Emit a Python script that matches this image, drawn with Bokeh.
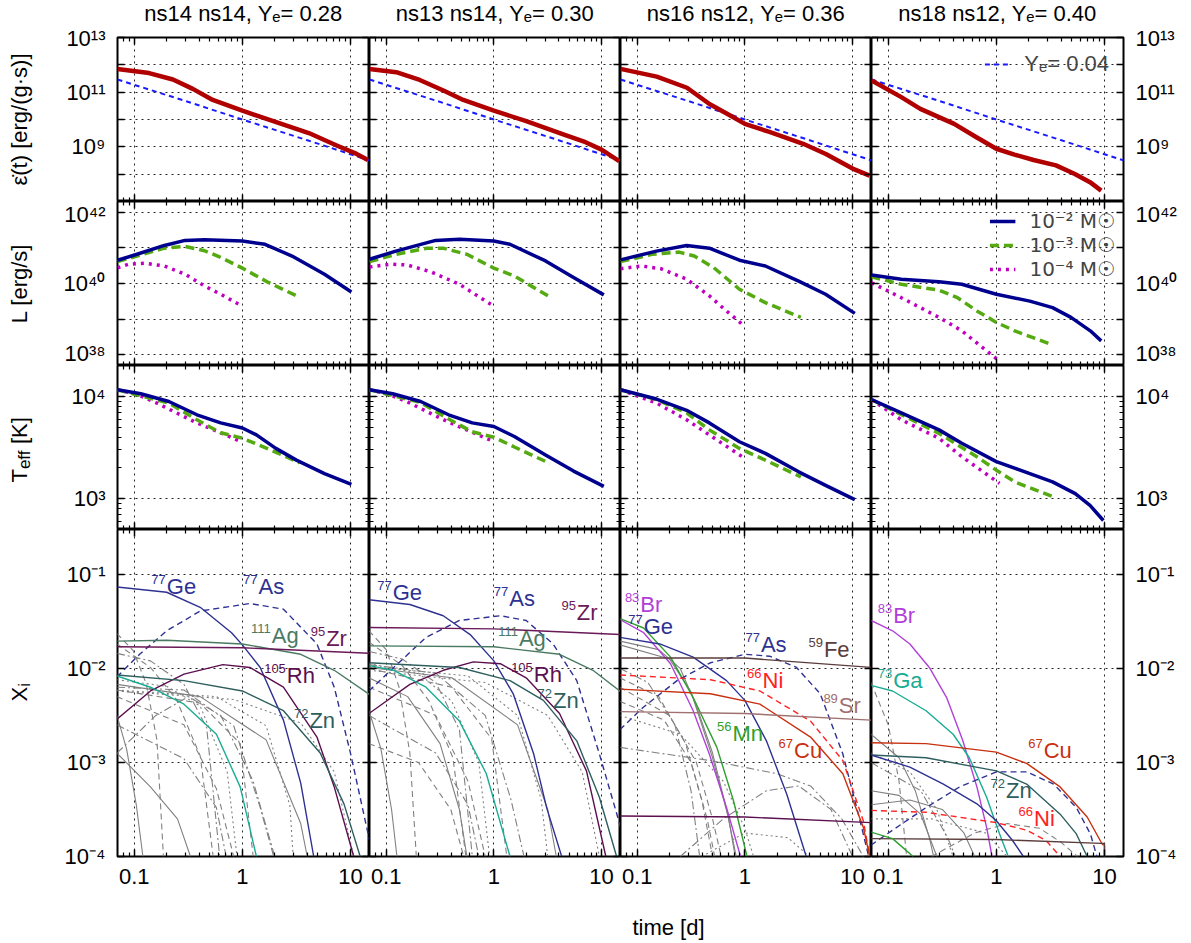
import numpy as np
from bokeh.plotting import figure
from bokeh.models import (LogAxis, FixedTicker, Label, Legend, LegendItem,
                          ColumnDataSource, Range1d)
from bokeh.layouts import gridplot, column, row
from bokeh.embed import file_html
from bokeh.resources import INLINE
from bokeh.core.properties import value

FONT = "Liberation Sans"
FS = "22px"

# ============================ DATA ============================
t_range = (0.07, 15.0)
model_names = ["ns14 ns14", "ns13 ns14", "ns16 ns12", "ns18 ns12"]
ye_values = ["0.28", "0.30", "0.36", "0.40"]
mass_labels = ["10\u207b\u00b2 M\u2609", "10\u207b\u00b3 M\u2609", "10\u207b\u2074 M\u2609"]
ref_label = "Y\u2091= 0.04"

# row 1: radioactive heating rate [erg/(g s)]
eps_ref_t = [0.07, 0.3, 1.0, 4.0, 15.0]
eps_ref_v = [2.9e11, 4.7e10, 1.0e10, 1.74e9, 3.2e8]
eps_t = [
    [0.07, 0.137, 0.228, 0.348, 0.532, 1.0, 2.09, 4.12, 7.46, 11.4, 14.5],
    [0.07, 0.124, 0.205, 0.340, 0.52, 1.0, 2.0, 4.28, 7.1, 10.0, 14.6],
    [0.07, 0.152, 0.290, 0.469, 0.731, 1.0, 1.69, 3.48, 5.65, 10.0, 14.4],
    [0.07, 0.132, 0.198, 0.407, 0.66, 1.0, 1.47, 2.21, 3.56, 5.32, 7.35, 9.33],
]
eps_v = [
    [7.1e11, 5.0e11, 2.9e11, 1.32e11, 5.2e10, 2.1e10, 7.9e9, 3.2e9, 1.12e9, 5.5e8, 3.3e8],
    [7.1e11, 5.4e11, 2.8e11, 1.15e11, 5.2e10, 2.1e10, 8.7e9, 3.0e9, 1.48e9, 7.9e8, 3.0e8],
    [7.1e11, 3.7e11, 1.45e11, 3.7e10, 1.41e10, 6.9e9, 3.5e9, 1.29e9, 5.5e8, 1.6e8, 8.9e7],
    [2.7e11, 6.6e10, 2.45e10, 6.9e9, 2.2e9, 8.5e8, 5.2e8, 3.3e8, 2.1e8, 1.02e8, 5.1e7, 2.5e7],
]

# row 2: luminosity [erg/s] for ejecta masses 1e-2, 1e-3, 1e-4 Msun
lum_m2_t = [
    [0.07, 0.106, 0.19, 0.295, 0.447, 1.0, 1.62, 2.88, 5.75, 10.2],
    [0.07, 0.123, 0.288, 0.479, 1.0, 1.41, 3.02, 5.5, 10.5],
    [0.07, 0.151, 0.288, 0.468, 0.891, 1.55, 3.16, 5.62, 10.5],
    [0.07, 0.132, 0.295, 0.479, 1.0, 2.04, 3.31, 4.9, 7.4, 9.33],
]
lum_m2_v = [
    [4.5e40, 6.6e40, 1.17e41, 1.62e41, 1.70e41, 1.55e41, 1.26e41, 5.9e40, 1.82e40, 5.8e39],
    [4.8e40, 8.1e40, 1.62e41, 1.74e41, 1.55e41, 1.26e41, 4.3e40, 1.48e40, 4.8e39],
    [4.6e40, 8.1e40, 1.17e41, 9.8e40, 4.5e40, 3.1e40, 1.17e40, 5.0e39, 1.45e39],
    [1.74e40, 1.32e40, 1.12e40, 9.5e39, 5.0e39, 3.2e39, 2.1e39, 1.12e39, 4.7e38, 2.45e38],
]
lum_m3_t = [
    [0.07, 0.106, 0.19, 0.295, 0.447, 0.63, 1.0, 1.74, 3.39],
    [0.07, 0.123, 0.24, 0.339, 0.562, 1.0, 1.55, 3.31],
    [0.07, 0.138, 0.245, 0.339, 0.513, 0.891, 1.55, 3.31],
    [0.07, 0.132, 0.295, 0.437, 0.66, 1.0, 1.48, 3.31],
]
lum_m3_v = [
    [4.1e40, 5.9e40, 9.8e40, 1.10e41, 8.3e40, 5.4e40, 2.7e40, 1.07e40, 4.1e39],
    [4.1e40, 6.6e40, 9.8e40, 9.8e40, 6.6e40, 2.7e40, 1.62e40, 4.2e39],
    [4.1e40, 6.6e40, 7.6e40, 5.9e40, 2.8e40, 6.9e39, 2.9e39, 1.12e39],
    [1.55e40, 9.5e39, 6.5e39, 4.0e39, 1.7e39, 8.1e38, 4.7e38, 1.9e38],
]
lum_m4_t = [
    [0.07, 0.089, 0.126, 0.19, 0.295, 0.447, 0.63, 1.0],
    [0.07, 0.112, 0.158, 0.263, 0.479, 1.0],
    [0.07, 0.11, 0.166, 0.288, 0.468, 0.646, 1.0],
    [0.07, 0.132, 0.295, 0.479, 0.776, 1.07],
]
lum_m4_v = [
    [2.75e40, 3.5e40, 3.7e40, 3.1e40, 1.82e40, 8.5e39, 5.0e39, 2.3e39],
    [2.9e40, 3.5e40, 3.3e40, 2.1e40, 9.5e39, 2.3e39],
    [2.6e40, 3.1e40, 2.6e40, 1.32e40, 4.5e39, 1.9e39, 6.2e38],
    [1.05e40, 4.0e39, 1.12e39, 4.7e38, 1.45e38, 6.6e37],
]

# row 3: effective temperature [K]
teff_m2_t = [
    [0.07, 0.115, 0.209, 0.38, 0.63, 1.0, 1.35, 2.04, 3.16, 5.75, 10.2],
    [0.07, 0.115, 0.209, 0.38, 0.63, 1.0, 1.55, 3.02, 5.5, 10.5],
    [0.07, 0.151, 0.288, 0.468, 0.891, 1.55, 3.16, 5.62, 10.5],
    [0.07, 0.132, 0.295, 0.479, 1.0, 2.04, 3.31, 5.37, 7.35, 9.77],
]
teff_m2_v = [
    [11600, 10600, 8900, 6600, 5500, 4900, 4200, 3100, 2380, 1760, 1380],
    [11600, 10600, 8900, 6600, 5500, 5070, 4050, 2670, 1860, 1320],
    [11600, 9400, 7300, 5500, 3600, 2770, 1830, 1350, 980],
    [9300, 6900, 4700, 3480, 2300, 1760, 1460, 1120, 860, 612],
]
teff_m3_t = [
    [0.07, 0.209, 0.38, 0.63, 1.0, 1.78, 3.39],
    [0.07, 0.209, 0.38, 0.63, 1.0, 1.55, 3.31],
    [0.07, 0.151, 0.288, 0.468, 0.891, 1.55, 3.31],
    [0.07, 0.295, 0.66, 1.0, 1.48, 3.31],
]
teff_m3_v = [
    [11600, 8600, 5900, 4400, 3900, 3030, 2240],
    [11600, 8700, 6000, 4500, 3980, 3200, 2210],
    [11600, 9300, 6900, 4700, 3100, 2380, 1630],
    [9300, 4350, 2570, 1900, 1460, 1050],
]
teff_m4_t = [
    [0.07, 0.107, 0.162, 0.245, 0.38, 0.63, 1.0],
    [0.07, 0.107, 0.162, 0.245, 0.38, 0.63, 1.0],
    [0.07, 0.151, 0.288, 0.468, 1.0],
    [0.07, 0.132, 0.295, 0.479, 1.07],
]
teff_m4_v = [
    [11600, 10400, 8600, 6900, 5500, 4400, 3560],
    [11600, 10400, 8700, 7000, 5600, 4450, 3610],
    [11600, 8600, 5900, 4200, 2470],
    [9300, 5900, 3890, 2570, 1410],
]

# row 4: mass fractions X_i, read as (log10 t, log10 X) pairs
c1_Ge77 = [(-1.16, -1.134), (-0.70, -1.19), (-0.39, -1.35), (-0.10, -1.62), (0.0, -1.75), (0.165, -1.99), (0.38, -2.55), (0.54, -3.22), (0.66, -4.0)]
c1_As77 = [(-1.16, -2.09), (-0.95, -1.85), (-0.70, -1.60), (-0.39, -1.39), (0.07, -1.31), (0.38, -1.37), (0.69, -1.74), (0.85, -2.20), (1.0, -2.9), (1.15, -3.69), (1.2, -3.95)]
c1_Ag111 = [(-1.16, -1.71), (-0.70, -1.70), (0.0, -1.74), (0.54, -1.85), (0.85, -2.02), (1.18, -2.28)]
c1_Zr95 = [(-1.16, -1.77), (0.0, -1.78), (1.18, -1.84)]
c1_Rh105 = [(-1.16, -2.54), (-0.85, -2.24), (-0.54, -2.06), (-0.18, -1.96), (0.07, -1.99), (0.38, -2.20), (0.69, -2.73), (0.85, -3.26), (1.03, -4.0)]
c1_Zn72 = [(-1.16, -2.07), (-0.54, -2.13), (0.0, -2.24), (0.38, -2.45), (0.72, -2.9), (0.94, -3.44), (1.09, -4.0)]
c1_Ga73 = [(-1.16, -2.08), (-0.85, -2.20), (-0.54, -2.38), (-0.24, -2.70), (-0.02, -3.26), (0.13, -4.0)]

c2_Ge77 = [(-1.16, -1.27), (-0.78, -1.32), (-0.47, -1.44), (-0.22, -1.64), (0.0, -1.92), (0.18, -2.27), (0.37, -2.91), (0.49, -3.48), (0.63, -4.0)]
c2_As77 = [(-1.16, -2.24), (-0.93, -1.99), (-0.63, -1.67), (-0.32, -1.49), (0.06, -1.44), (0.3, -1.49), (0.55, -1.74), (0.77, -2.13), (0.98, -2.91), (1.16, -3.62), (1.2, -3.8)]
c2_Zr95 = [(-1.16, -1.565), (0.0, -1.58), (1.18, -1.64)]
c2_Ag111 = [(-1.16, -1.76), (0.0, -1.77), (0.61, -1.85), (0.92, -2.02), (1.18, -2.25)]
c2_Rh105 = [(-1.16, -2.48), (-0.78, -2.17), (-0.47, -2.02), (-0.19, -1.93), (0.06, -1.95), (0.3, -2.10), (0.61, -2.48), (0.86, -3.09), (1.04, -4.0)]
c2_Zn72 = [(-1.16, -1.94), (-0.32, -1.99), (0.15, -2.13), (0.46, -2.34), (0.77, -2.77), (0.98, -3.37), (1.14, -4.0)]
c2_Ga73 = [(-1.16, -1.97), (-0.93, -2.02), (-0.63, -2.2), (-0.32, -2.56), (-0.07, -3.12), (0.15, -4.0)]

c3_Br83 = [(-1.16, -1.48), (-0.94, -1.62), (-0.69, -1.95), (-0.48, -2.45), (-0.33, -2.91), (-0.17, -3.48), (-0.04, -4.0)]
c3_Mn56 = [(-1.16, -1.47), (-0.94, -1.57), (-0.69, -1.88), (-0.48, -2.31), (-0.26, -2.84), (-0.105, -3.41), (0.02, -4.0)]
c3_Ge77 = [(-1.16, -1.67), (-0.79, -1.74), (-0.48, -1.88), (-0.17, -2.13), (0.0, -2.34), (0.2, -2.77), (0.39, -3.34), (0.57, -4.0)]
c3_As77 = [(-1.16, -2.65), (-0.94, -2.41), (-0.63, -2.13), (-0.32, -1.94), (0.0, -1.85), (0.23, -1.87), (0.48, -1.99), (0.7, -2.27), (0.91, -2.91), (1.07, -3.62), (1.15, -4.0)]
c3_Fe59 = [(-1.16, -1.89), (0.0, -1.89), (1.18, -1.99)]
c3_Ni66 = [(-1.16, -2.07), (-0.32, -2.12), (0.14, -2.24), (0.61, -2.56), (0.91, -2.98), (1.1, -3.62), (1.16, -4.0)]
c3_Cu67 = [(-1.16, -2.22), (-0.32, -2.27), (0.14, -2.38), (0.61, -2.73), (0.91, -3.12), (1.1, -3.69), (1.16, -4.0)]
c3_Sr89 = [(-1.16, -2.46), (0.0, -2.48), (1.18, -2.55)]
c3_Zr95 = [(-1.16, -3.57), (0.0, -3.58), (1.18, -3.64)]

c4_Br83 = [(-1.16, -1.49), (-0.96, -1.60), (-0.80, -1.74), (-0.62, -1.99), (-0.46, -2.31), (-0.31, -2.77), (-0.18, -3.26), (-0.09, -3.69), (-0.04, -4.0)]
c4_Ga73 = [(-1.16, -2.18), (-0.96, -2.24), (-0.65, -2.45), (-0.40, -2.70), (-0.25, -2.95), (-0.09, -3.37), (0.03, -3.76), (0.11, -4.0)]
c4_Cu67 = [(-1.16, -2.79), (-0.65, -2.80), (0.0, -2.89), (0.28, -3.01), (0.59, -3.26), (0.84, -3.58), (0.98, -3.87), (1.0, -3.88), (1.0, -4.5)]
c4_Zn72 = [(-1.16, -2.92), (-0.65, -2.95), (0.0, -3.09), (0.28, -3.23), (0.59, -3.55), (0.74, -3.76), (0.84, -4.0)]
c4_Ge77 = [(-1.16, -2.92), (-0.80, -3.05), (-0.49, -3.23), (-0.18, -3.44), (0.0, -3.62), (0.15, -3.83), (0.25, -4.0)]
c4_As77 = [(-1.16, -3.88), (-0.96, -3.72), (-0.65, -3.48), (-0.34, -3.26), (0.0, -3.10), (0.28, -3.10), (0.53, -3.23), (0.74, -3.48), (0.87, -3.76), (0.93, -4.0)]
c4_Ni66 = [(-1.16, -3.51), (-0.65, -3.53), (0.0, -3.64), (0.28, -3.72), (0.46, -3.83), (0.59, -4.0)]
c4_Fe59 = [(-1.16, -3.81), (0.0, -3.82), (0.97, -3.86), (1.0, -3.86), (1.0, -4.5)]
c4_Mn56 = [(-1.16, -3.74), (-0.96, -3.81), (-0.77, -4.0)]

# unlabelled (grey) isotopes: (line style, pairs)
c1_grey = [
    ("solid", [(-1.16, -2.5), (-1.07, -2.86), (-0.98, -3.46), (-0.92, -4.0)]),
    ("solid", [(-1.16, -2.9), (-0.85, -3.26), (-0.6, -3.6), (-0.48, -4.0)]),
    ("dashed", [(-1.16, -1.63), (-1.01, -1.81), (-0.89, -2.16), (-0.79, -2.76), (-0.73, -4.0)]),
    ("dashed", [(-1.16, -1.74), (-0.85, -1.99), (-0.61, -2.33), (-0.39, -2.93), (-0.27, -4.0)]),
    ("dashdot", [(-1.16, -1.84), (-0.85, -1.92), (-0.54, -2.17), (-0.33, -2.63), (-0.21, -4.0)]),
    ("dotted", [(-1.16, -2.12), (-0.7, -2.19), (-0.39, -2.4), (-0.14, -3.1), (-0.05, -4.0)]),
    ("dashdot", [(-1.16, -2.2), (-0.54, -2.23), (-0.08, -2.61), (0.16, -3.46), (0.29, -4.0)]),
    ("dotted", [(-1.16, -2.23), (-0.24, -2.3), (0.22, -2.61), (0.44, -3.46), (0.47, -4.0)]),
    ("dashed", [(-1.16, -2.23), (-0.39, -2.37), (-0.02, -2.8), (0.1, -4.0)]),
    ("solid", [(-1.16, -2.17), (-0.39, -2.3), (0.22, -2.76), (0.54, -3.65), (0.6, -4.0)]),
    ("dotted", [(-1.16, -2.24), (-0.08, -2.33), (0.54, -2.58), (0.85, -3.1), (1.03, -4.0)]),
    ("dashed", [(-1.16, -2.3), (-0.54, -2.6), (-0.24, -3.28), (-0.08, -4.0)]),
    ("dashdot", [(-1.16, -2.6), (-0.54, -2.96), (-0.24, -3.48), (-0.15, -4.0)]),
    ("dashdot", [(-1.16, -2.9), (-0.8, -2.5), (-0.5, -2.3), (-0.2, -2.5), (0.1, -3.2), (0.3, -4.0)]),
]
c2_grey = [
    ("solid", [(-1.16, -2.45), (-1.05, -2.85), (-0.95, -3.5), (-0.9, -4.0)]),
    ("solid", [(-1.16, -2.1), (-0.8, -2.3), (-0.5, -2.8), (-0.32, -3.5), (-0.25, -4.0)]),
    ("dashed", [(-1.16, -1.6), (-1.0, -1.8), (-0.88, -2.2), (-0.78, -2.9), (-0.72, -4.0)]),
    ("dashed", [(-1.16, -1.72), (-0.85, -1.97), (-0.6, -2.35), (-0.38, -2.95), (-0.26, -4.0)]),
    ("dashdot", [(-1.16, -1.82), (-0.85, -1.9), (-0.54, -2.15), (-0.32, -2.65), (-0.2, -4.0)]),
    ("dotted", [(-1.16, -1.95), (-0.7, -2.05), (-0.39, -2.35), (-0.14, -3.0), (-0.04, -4.0)]),
    ("dashdot", [(-1.16, -1.96), (-0.54, -2.05), (-0.08, -2.5), (0.16, -3.4), (0.28, -4.0)]),
    ("dotted", [(-1.16, -1.98), (-0.24, -2.08), (0.22, -2.5), (0.44, -3.4), (0.5, -4.0)]),
    ("dashed", [(-1.16, -2.0), (-0.39, -2.2), (-0.02, -2.75), (0.12, -4.0)]),
    ("solid", [(-1.16, -1.99), (-0.39, -2.1), (0.22, -2.6), (0.5, -3.5), (0.58, -4.0)]),
    ("dotted", [(-1.16, -2.02), (-0.08, -2.15), (0.5, -2.5), (0.82, -3.1), (0.98, -4.0)]),
    ("dashed", [(-1.16, -2.2), (-0.54, -2.5), (-0.24, -3.2), (-0.08, -4.0)]),
    ("dashdot", [(-1.16, -2.5), (-0.54, -2.9), (-0.24, -3.45), (-0.14, -4.0)]),
    ("dashed", [(-1.16, -2.8), (-0.7, -3.0), (-0.4, -3.5), (-0.28, -4.0)]),
]
c3_grey = [
    ("solid", [(-1.16, -1.71), (-0.8, -1.8), (-0.6, -2.0), (-0.45, -2.4), (-0.3, -2.9), (-0.17, -3.5), (-0.08, -4.0)]),
    ("solid", [(-1.16, -1.75), (-0.7, -1.9), (-0.5, -2.25), (-0.3, -2.95), (-0.15, -3.6), (-0.09, -4.0)]),
    ("dashed", [(-1.16, -2.1), (-0.8, -2.3), (-0.55, -2.8), (-0.4, -3.4), (-0.3, -4.0)]),
    ("dashed", [(-1.16, -2.2), (-0.7, -2.5), (-0.45, -3.0), (-0.3, -3.6), (-0.22, -4.0)]),
    ("dashdot", [(-1.16, -2.0), (-0.9, -2.15), (-0.65, -2.6), (-0.5, -3.3), (-0.42, -4.0)]),
    ("dashdot", [(-1.16, -2.84), (-0.32, -2.98), (0.3, -3.12), (0.61, -3.25), (0.9, -3.6), (1.1, -4.0)]),
    ("dotted", [(-1.16, -2.5), (-0.6, -2.7), (-0.2, -3.2), (0.0, -3.7), (0.08, -4.0)]),
    ("dashdot", [(-0.6, -4.0), (-0.2, -3.6), (0.2, -3.3), (0.5, -3.25), (0.8, -3.5), (1.0, -4.0)]),
    ("dotted", [(-0.4, -4.0), (0.0, -3.75), (0.4, -3.8), (0.6, -4.0)]),
    ("dashed", [(-1.16, -2.35), (-0.75, -2.55), (-0.5, -3.0), (-0.35, -3.6), (-0.28, -4.0)]),
]
c4_grey = [
    ("solid", [(-1.16, -2.7), (-0.9, -2.95), (-0.75, -3.3), (-0.62, -3.8), (-0.58, -4.0)]),
    ("solid", [(-1.16, -3.3), (-0.9, -3.35), (-0.7, -3.55), (-0.55, -4.0)]),
    ("dashed", [(-1.16, -2.15), (-1.0, -2.6), (-0.9, -3.2), (-0.83, -4.0)]),
    ("dotted", [(-1.16, -2.9), (-0.8, -3.1), (-0.55, -3.5), (-0.4, -4.0)]),
    ("dashdot", [(-1.16, -3.0), (-0.7, -3.3), (-0.45, -3.8), (-0.38, -4.0)]),
    ("dashed", [(-0.6, -4.0), (-0.2, -3.75), (0.1, -3.65), (0.4, -3.7), (0.6, -3.85), (0.75, -4.0)]),
    ("solid", [(-1.16, -3.45), (-0.8, -3.4), (-0.5, -3.5), (-0.3, -3.75), (-0.2, -4.0)]),
    ("dotted", [(-1.16, -3.6), (-0.6, -3.6), (-0.1, -3.75), (0.1, -4.0)]),
]

# ============================ STYLE ============================
GE, AG, ZR, RH, ZN, GA = "#2e3192", "#4b7a62", "#6a1858", "#5c0f4f", "#2e5e5e", "#1aab93"
BR, MN, FE, NI, CU, SR = "#b040d8", "#2f9f2f", "#5a3c3c", "#ff2222", "#c83010", "#a07070"
GREY = "#808080"
DASH = {"solid": "solid", "dashed": "6 4", "dashdot": "8 3 2 3", "dotted": "2 3"}

colored = [
    [(c1_Ge77, GE, "solid"), (c1_As77, GE, "dashed"), (c1_Ag111, AG, "solid"), (c1_Zr95, ZR, "solid"),
     (c1_Rh105, RH, "solid"), (c1_Zn72, ZN, "solid"), (c1_Ga73, GA, "solid")],
    [(c2_Ge77, GE, "solid"), (c2_As77, GE, "dashed"), (c2_Ag111, AG, "solid"), (c2_Zr95, ZR, "solid"),
     (c2_Rh105, RH, "solid"), (c2_Zn72, ZN, "solid"), (c2_Ga73, GA, "solid")],
    [(c3_Br83, BR, "solid"), (c3_Mn56, MN, "solid"), (c3_Ge77, GE, "solid"), (c3_As77, GE, "dashed"),
     (c3_Fe59, FE, "solid"), (c3_Ni66, NI, "dashed"), (c3_Cu67, CU, "solid"), (c3_Sr89, SR, "solid"),
     (c3_Zr95, RH, "solid")],
    [(c4_Br83, BR, "solid"), (c4_Ga73, GA, "solid"), (c4_Cu67, CU, "solid"), (c4_Zn72, ZN, "solid"),
     (c4_Ge77, GE, "solid"), (c4_As77, GE, "dashed"), (c4_Ni66, NI, "dashed"), (c4_Fe59, FE, "solid"),
     (c4_Mn56, MN, "solid")],
]
greys = [c1_grey, c2_grey, c3_grey, c4_grey]

# isotope annotations: (mass number, symbol, t, X, colour)
iso_notes = [
    [("77", "Ge", 0.20, 0.075, GE), ("77", "As", 1.41, 0.075, GE), ("111", "Ag", 1.87, 0.0222, AG),
     ("95", "Zr", 5.96, 0.0209, ZR), ("105", "Rh", 2.58, 0.00836, RH), ("72", "Zn", 4.17, 0.00278, ZN)],
    [("77", "Ge", 0.115, 0.0649, GE), ("77", "As", 1.39, 0.055, GE), ("95", "Zr", 5.9, 0.0392, ZR),
     ("111", "Ag", 1.71, 0.0209, AG), ("105", "Rh", 2.35, 0.0087, RH), ("72", "Zn", 3.54, 0.00461, ZN)],
    [("83", "Br", 0.107, 0.048, BR), ("77", "Ge", 0.115, 0.0276, GE), ("77", "As", 1.41, 0.0181, GE),
     ("59", "Fe", 5.42, 0.016, FE), ("66", "Ni", 1.46, 0.0074, NI), ("89", "Sr", 7.46, 0.00408, SR),
     ("56", "Mn", 0.767, 0.00204, MN), ("67", "Cu", 2.86, 0.00134, CU)],
    [("83", "Br", 0.111, 0.0367, BR), ("73", "Ga", 0.111, 0.0075, GA), ("67", "Cu", 2.74, 0.00134, CU),
     ("72", "Zn", 1.23, 0.000504, ZN), ("66", "Ni", 2.23, 0.000252, NI)],
]

# ============================ LAYOUT ============================
SUP = str.maketrans("-0123456789", "\u207b\u2070\u00b9\u00b2\u00b3\u2074\u2075\u2076\u2077\u2078\u2079")


def dec(k):
    return float("1e%d" % k)


def pow_label(k):
    return "10" + str(k).translate(SUP)


TOP_H, LEFT_W, BOT_H = 25, 40, 42
FW = [252, 251, 251, 252]
ROWS = [
    dict(yr=(1e7, 1e13), ticks=[dec(k) for k in range(7, 14)], minor=[],
         lab=[13, 11, 9], h=164),
    dict(yr=(5e37, 2e42), ticks=[dec(k) for k in range(38, 43)], minor=[],
         lab=[42, 40, 38], h=164),
    dict(yr=(500.0, 2e4), ticks=[1e3, 1e4],
         minor=[600.0, 700.0, 800.0, 900.0, 2000.0, 3000.0, 4000.0, 5000.0, 6000.0, 7000.0, 8000.0, 9000.0],
         lab=[4, 3], h=164),
    dict(yr=(1e-4, 0.3), ticks=[dec(k) for k in range(-4, 0)], minor=[],
         lab=[-1, -2, -3, -4], h=327),
]
X_TICKS = [0.1, 1.0, 10.0]
X_MINOR = [0.08, 0.09, 0.2, 0.3, 0.4, 0.5, 0.6, 0.7, 0.8, 0.9, 2.0, 3.0, 4.0, 5.0, 6.0, 7.0, 8.0, 9.0]
X_LABELS = {0.1: "0.1", 1.0: "1", 10.0: "10"}


def style_axis(ax, ticks, minor, labels):
    ax.ticker = FixedTicker(ticks=ticks, minor_ticks=minor)
    ax.axis_line_color = None
    ax.major_tick_in = 7
    ax.major_tick_out = 0
    ax.minor_tick_in = 4
    ax.minor_tick_out = 0
    ax.major_tick_line_color = "black"
    ax.minor_tick_line_color = "black"
    ax.major_tick_line_width = 1.5
    ax.minor_tick_line_width = 1.2
    ax.major_label_text_font = FONT
    if labels is not None:
        ax.major_label_overrides = labels
        ax.major_label_text_font_size = FS
        ax.major_label_text_color = "black"
        ax.major_label_standoff = 12
    else:
        ax.major_label_overrides = {t: "" for t in ticks}
        ax.major_label_text_font_size = "0px"
        ax.major_label_standoff = 0


def screen_label(p, x, y, text, size=FS, align="left", angle=0.0, baseline="middle"):
    p.add_layout(Label(x=x, y=y, x_units="screen", y_units="screen", text=text,
                       text_font=FONT, text_font_size=size, text_align=align,
                       text_baseline=baseline, angle=angle, text_color="black"))


def strip(w, h):
    s = figure(width=w, height=h, output_backend="svg", toolbar_location=None,
               x_axis_location=None, y_axis_location=None, min_border=0,
               x_range=Range1d(0, 1), y_range=Range1d(0, 1),
               background_fill_color="white", border_fill_color="white")
    s.outline_line_color = None
    s.grid.visible = False
    return s


grid_rows = []
for r, spec in enumerate(ROWS):
    row_figs = []
    for c in range(4):
        p = figure(x_axis_type="log", y_axis_type="log",
                   x_range=Range1d(*t_range), y_range=Range1d(*spec["yr"]),
                   frame_width=FW[c], frame_height=spec["h"],
                   output_backend="svg", toolbar_location=None,
                   min_border_left=117 - LEFT_W if c == 0 else 0,
                   min_border_right=68 if c == 3 else 0,
                   min_border_top=37 - TOP_H if r == 0 else 0,
                   min_border_bottom=45 if r == 3 else 0,
                   background_fill_color="white", border_fill_color="white")
        p.outline_line_color = "black"
        p.outline_line_width = 2
        p.add_layout(LogAxis(), "right")
        p.add_layout(LogAxis(), "above")
        ylabels = {t: "" for t in spec["ticks"]}
        for k in spec["lab"]:
            ylabels[dec(k)] = pow_label(k)
        style_axis(p.left[0], spec["ticks"], spec["minor"], ylabels if c == 0 else None)
        style_axis(p.right[0], spec["ticks"], spec["minor"], ylabels if c == 3 else None)
        style_axis(p.below[0], X_TICKS, X_MINOR, X_LABELS if r == 3 else None)
        style_axis(p.above[0], X_TICKS, X_MINOR, None)
        p.xgrid.ticker = FixedTicker(ticks=X_TICKS)
        p.ygrid.ticker = FixedTicker(ticks=spec["ticks"])
        for g in (p.xgrid, p.ygrid):
            g.grid_line_color = "black"
            g.grid_line_dash = "2 4"
            g.grid_line_width = 1
            g.grid_line_alpha = 0.85

        if r == 0:
            rr = p.line(eps_ref_t, eps_ref_v, line_color="#1a1aff", line_width=2, line_dash="5 4")
            p.line(eps_t[c], eps_v[c], line_color="#b00000", line_width=4.5,
                   line_join="round")
            if c == 3:
                lg = Legend(items=[LegendItem(label=ref_label, renderers=[rr])],
                            location="top_right", border_line_color=None,
                            background_fill_alpha=0, label_text_font=FONT,
                            label_text_font_size=FS, glyph_width=24, label_standoff=16,
                            padding=2, margin=14, spacing=0)
                p.add_layout(lg, "center")
        elif r in (1, 2):
            if r == 1:
                d2 = (lum_m2_t[c], lum_m2_v[c]); d3 = (lum_m3_t[c], lum_m3_v[c]); d4 = (lum_m4_t[c], lum_m4_v[c])
            else:
                d2 = (teff_m2_t[c], teff_m2_v[c]); d3 = (teff_m3_t[c], teff_m3_v[c]); d4 = (teff_m4_t[c], teff_m4_v[c])
            r4 = p.line(*d4, line_color="#c000c0", line_width=3.5, line_dash="3 5")
            r3 = p.line(*d3, line_color="#55aa11", line_width=3.5, line_dash="9 5")
            r2 = p.line(*d2, line_color="#00008f", line_width=3.5, line_join="round")
            if r == 1 and c == 3:
                lg = Legend(items=[LegendItem(label=mass_labels[0], renderers=[r2]),
                                   LegendItem(label=mass_labels[1], renderers=[r3]),
                                   LegendItem(label=mass_labels[2], renderers=[r4])],
                            location="top_right", border_line_color=None,
                            background_fill_alpha=0, label_text_font="DejaVu Sans",
                            label_text_font_size="20px", glyph_width=26, label_standoff=14,
                            padding=0, margin=8, spacing=0, label_height=20, glyph_height=20)
                p.add_layout(lg, "center")
        else:
            for style, pairs in greys[c]:
                a = np.array(pairs, dtype=float)
                p.line(10 ** a[:, 0], 10 ** a[:, 1], line_color=GREY, line_width=1.1,
                       line_dash=DASH[style])
            for pairs, col, style in colored[c]:
                a = np.array(pairs, dtype=float)
                p.line(10 ** a[:, 0], 10 ** a[:, 1], line_color=col, line_width=1.4,
                       line_dash=DASH[style])
            notes = iso_notes[c]
            src = ColumnDataSource(dict(x=[n[2] for n in notes], y=[n[3] for n in notes],
                                        mass=[n[0] for n in notes], sym=[n[1] for n in notes],
                                        color=[n[4] for n in notes]))
            p.text(x="x", y="y", text="sym", source=src, text_color="color",
                   text_font=value(FONT), text_font_size="22px", text_align="left",
                   text_baseline="middle")
            p.text(x="x", y="y", text="mass", source=src, text_color="color",
                   text_font=value(FONT), text_font_size="13px", text_align="right",
                   text_baseline="middle", x_offset=-1, y_offset=-7)
        row_figs.append(p)
    grid_rows.append(row_figs)

grid = gridplot(grid_rows, toolbar_location=None)

# top strip: column titles "nsXX nsYY, Y_e= 0.xx"
top = strip(1191, TOP_H)
col_left = [117, 369, 620, 871]
for c in range(4):
    cx = col_left[c] + FW[c] / 2
    screen_label(top, cx, TOP_H / 2, model_names[c] + ", Y\u2091= " + ye_values[c], align="center")

# left strip: y-axis titles
grid_h = (37 - TOP_H) + sum(s["h"] for s in ROWS) + 45
left = strip(LEFT_W, grid_h)
base = TOP_H + grid_h   # page y of strip bottom
screen_label(left, 19, base - 119, "\u03b5\u0307(t) [erg/(g\u00b7s)]", align="center", angle=np.pi / 2)
screen_label(left, 19, base - 283, "L [erg/s]", align="center", angle=np.pi / 2)
screen_label(left, 19, base - 482, "T", angle=np.pi / 2)
screen_label(left, 24, base - 468.6, "eff", size="17px", angle=np.pi / 2)
screen_label(left, 19, base - 443.5, "[K]", angle=np.pi / 2)
screen_label(left, 19, base - 701, "X", angle=np.pi / 2)
screen_label(left, 24, base - 686.3, "i", size="17px", angle=np.pi / 2)

# bottom strip: x-axis title
bot = strip(1191, BOT_H)
screen_label(bot, 668, 16, "time [d]", align="center")

page = column(top, row(left, grid), bot)
open("out.html", "w").write(file_html(page, INLINE))
